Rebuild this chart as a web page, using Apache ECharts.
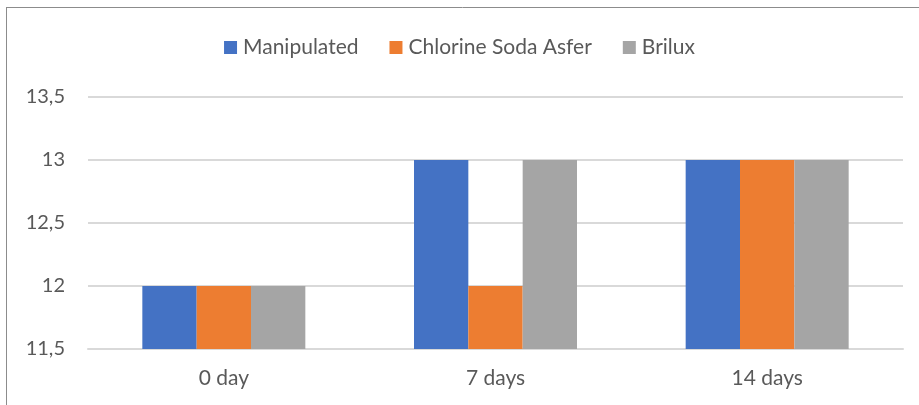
<!DOCTYPE html>
<html>
<head>
<meta charset="utf-8">
<script src="https://cdn.jsdelivr.net/npm/echarts@6/dist/echarts.min.js"></script>
<style>
  html, body { margin: 0; padding: 0; background: #fff; }
  #chart { width: 919px; height: 405px; }
</style>
</head>
<body>
<div id="chart"></div>
<script>
const categories = ['0 day', '7 days', '14 days'];
const manipulated = [12, 13, 13];
const chlorineSodaAsfer = [12, 12, 13];
const brilux = [12, 13, 13];
const seriesNames = ['Manipulated', 'Chlorine Soda Asfer', 'Brilux'];
const colors = ['#4472C4', '#ED7D31', '#A5A5A5'];

const font = 'Lato, "Open Sans", sans-serif';
const myChart = echarts.init(document.getElementById('chart'));

const option = {
  animation: false,
  color: colors,
  graphic: [
    // frame only shows on top and left
    { type: 'line', shape: { x1: 6, y1: 7.5, x2: 919, y2: 7.5 }, style: { stroke: '#8c8c8c', lineWidth: 1 } },
    { type: 'line', shape: { x1: 6.5, y1: 7, x2: 6.5, y2: 405 }, style: { stroke: '#8c8c8c', lineWidth: 1 } }
  ],
  legend: {
    top: 32,
    left: 'center',
    itemWidth: 13,
    itemHeight: 13,
    itemGap: 31,
    icon: 'rect',
    textStyle: { color: '#595959', fontSize: 21, fontFamily: font, padding: [0, 0, 0, 1] }
  },
  grid: { left: 88, right: 16, top: 97, bottom: 56 },
  xAxis: {
    type: 'category',
    data: categories,
    axisLine: { lineStyle: { color: '#d9d9d9', width: 2 } },
    axisTick: { show: false },
    axisLabel: { color: '#595959', fontSize: 21, fontFamily: font, margin: 19 }
  },
  yAxis: {
    type: 'value',
    min: 11.5,
    max: 13.5,
    interval: 0.5,
    axisLine: { show: false },
    axisTick: { show: false },
    splitLine: { lineStyle: { color: '#d9d9d9', width: 2 } },
    axisLabel: {
      color: '#595959', fontSize: 20, fontFamily: font, margin: 23,
      formatter: v => String(v).replace('.', ',')
    }
  },
  series: [
    { name: seriesNames[0], type: 'bar', data: manipulated, barGap: '0%', barCategoryGap: '40%' },
    { name: seriesNames[1], type: 'bar', data: chlorineSodaAsfer, barGap: '0%', barCategoryGap: '40%' },
    { name: seriesNames[2], type: 'bar', data: brilux, barGap: '0%', barCategoryGap: '40%' }
  ]
};
myChart.setOption(option);
</script>
</body>
</html>
